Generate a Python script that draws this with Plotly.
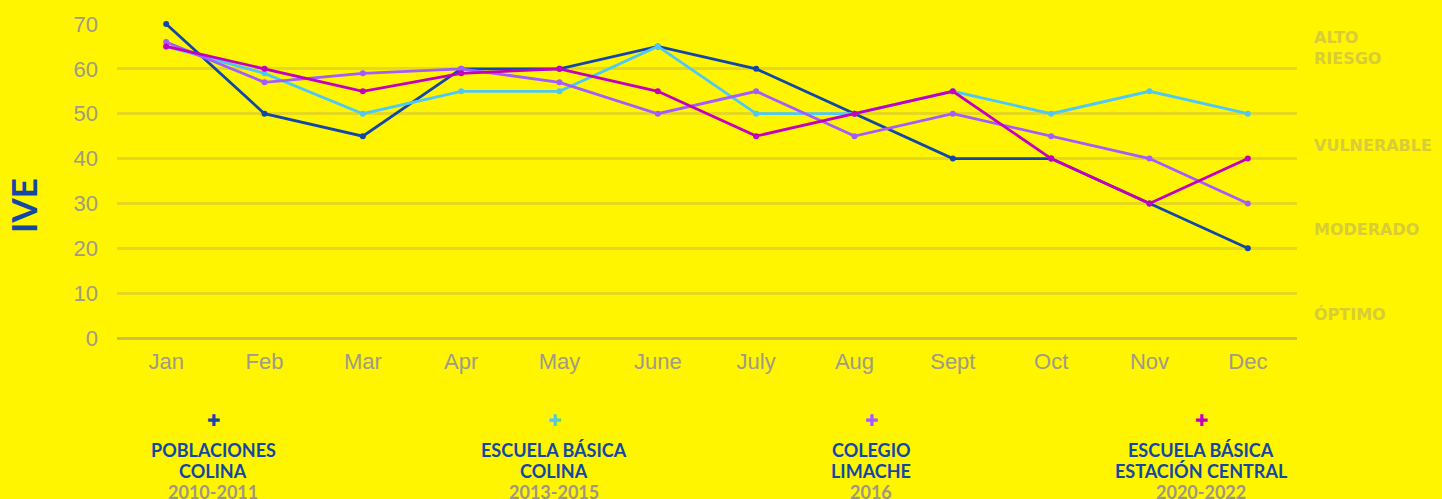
import plotly.graph_objects as go

months = ["Jan", "Feb", "Mar", "Apr", "May", "June", "July", "Aug", "Sept", "Oct", "Nov", "Dec"]
poblaciones_colina = [70, 50, 45, 60, 60, 65, 60, 50, 40, 40, 30, 20]
escuela_basica_colina = [65, 59, 50, 55, 55, 65, 50, 50, 55, 50, 55, 50]
colegio_limache = [66, 57, 59, 60, 57, 50, 55, 45, 50, 45, 40, 30]
estacion_central = [65, 60, 55, 59, 60, 55, 45, 50, 55, 40, 30, 40]
y_ticks = [0, 10, 20, 30, 40, 50, 60, 70]

series = [
    (["POBLACIONES", "COLINA"], "2010-2011", poblaciones_colina, "#1247A8"),
    (["ESCUELA BÁSICA", "COLINA"], "2013-2015", escuela_basica_colina, "#4FC8F5"),
    (["COLEGIO", "LIMACHE"], "2016", colegio_limache, "#A25CFF"),
    (["ESCUELA BÁSICA", "ESTACIÓN CENTRAL"], "2020-2022", estacion_central, "#C400BE"),
]
risk_labels = [("ALTO<br>RIESGO", 1312, 48), ("VULNERABLE", 1312, 145), ("MODERADO", 1312, 229), ("ÓPTIMO", 1312, 314)]
legend_x = [213, 554, 871, 1201]

W, H = 1442, 499
ML, MR, MT, MB = 117, W - 1297, 24, H - 338
pw = W - ML - MR
ph = H - MT - MB

fig = go.Figure()
for name, years, vals, color in series:
    fig.add_trace(go.Scatter(
        x=months, y=vals, mode="lines+markers", name=" ".join(name),
        line=dict(color=color, width=2.8), marker=dict(color=color, size=6),
        showlegend=False, cliponaxis=False,
    ))

def px2paper_x(px):
    return (px - ML) / pw

def px2paper_y(py):
    return (H - MB - py) / ph

bold_font = "Lato, Open Sans, sans-serif"
for (name, years, vals, color), lx in zip(series, legend_x):
    fig.add_annotation(x=px2paper_x(lx), y=px2paper_y(420), xref="paper", yref="paper",
                       text="✚", showarrow=False, font=dict(size=16, color=color, family="DejaVu Sans"),
                       xanchor="center", yanchor="middle")
    for line, ly in zip(name, [450, 471]):
        fig.add_annotation(x=px2paper_x(lx), y=px2paper_y(ly), xref="paper", yref="paper",
                           text=f"<b>{line}</b>", showarrow=False,
                           font=dict(size=18, color="#1247A8", family=bold_font),
                           xanchor="center", yanchor="middle")
    fig.add_annotation(x=px2paper_x(lx), y=px2paper_y(492), xref="paper", yref="paper",
                       text=f"<b>{years}</b>", showarrow=False,
                       font=dict(size=18, color="#9E968A", family=bold_font),
                       xanchor="center", yanchor="middle")

for txt, lx, ly in risk_labels:
    fig.add_annotation(x=px2paper_x(lx), y=px2paper_y(ly), xref="paper", yref="paper",
                       text=f"<b>{txt}</b>", showarrow=False, align="left",
                       font=dict(size=16, color="#D8CC38", family="DejaVu Sans"),
                       xanchor="left", yanchor="middle")

fig.add_annotation(x=px2paper_x(23), y=px2paper_y(206), xref="paper", yref="paper",
                   text="<b>IVE</b>", showarrow=False, textangle=-90,
                   font=dict(size=35, color="#1247A8", family=bold_font),
                   xanchor="center", yanchor="middle")

fig.update_layout(
    width=W, height=H,
    margin=dict(l=ML, r=MR, t=MT, b=MB, pad=0),
    paper_bgcolor="#FFF500", plot_bgcolor="#FFF500",
    font=dict(family="Liberation Sans, Arial, sans-serif", color="#A09A88", size=22),
    xaxis=dict(range=[-0.5, 11.5], showgrid=False, zeroline=False, showline=False,
               tickfont=dict(size=22, color="#A09A88"), ticks="", ticklabelstandoff=8),
    yaxis=dict(range=[0, 70], tickvals=y_ticks, showgrid=True, gridcolor="#E6D81E", gridwidth=3,
               zeroline=True, zerolinecolor="#CDBF4A", zerolinewidth=3,
               tickfont=dict(size=22, color="#A09A88"), ticks="", ticklabelstandoff=18),
)

fig.write_html("out.html", config={"displayModeBar": False},
               post_script="document.body.style.margin='0';document.body.style.overflow='hidden';")
